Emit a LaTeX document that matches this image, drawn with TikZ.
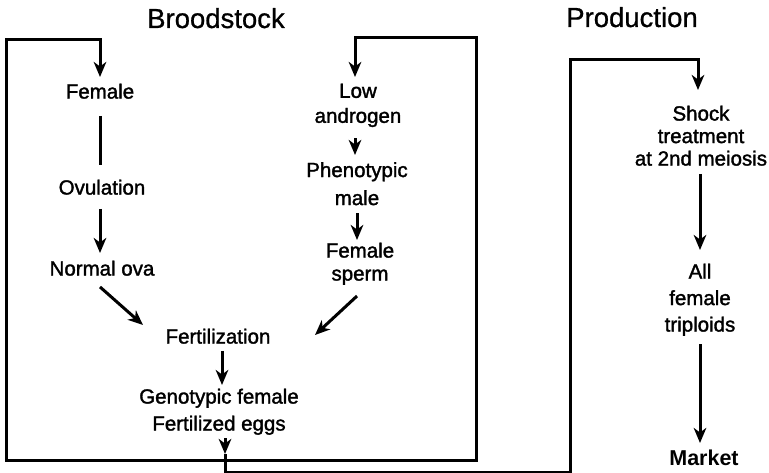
\documentclass[tikz,border=0pt]{standalone}
\usepackage{fontspec}
\setmainfont{Liberation Sans}
\newfontfamily\heavyfont[FakeBold=1.6]{Liberation Sans}
\newfontfamily\titlefont[FakeBold=0.8]{Liberation Sans}
\usetikzlibrary{arrows.meta}
\begin{document}
\begin{tikzpicture}[x=1pt,y=-1pt,
  lbl/.style={inner sep=0pt, align=center, anchor=north},
  ttl/.style={inner sep=0pt, anchor=base, font=\titlefont\fontsize{27.5}{30}\selectfont},
  ln/.style={line width=3pt},
  arr/.style={ln, -{Stealth[length=15pt,width=12.5pt,inset=4.5pt]}}]
\useasboundingbox[fill=white] (0,0) rectangle (769,473);
% titles
\node[ttl] (broodstock) at (216,28) {Broodstock};
\node[ttl] (production) at (632,27) {Production};
% left column
\node[lbl, font=\heavyfont\fontsize{20.5}{24}\selectfont] (female) at (100,83.5) {Female};
\node[lbl, font=\heavyfont\fontsize{20.5}{24}\selectfont] (ovul) at (102,179.5) {Ovulation};
\node[lbl, font=\heavyfont\fontsize{20.5}{24}\selectfont] (ova) at (102,260.5) {Normal ova};
% right column
\node[lbl, font=\heavyfont\fontsize{20.5}{25}\selectfont] (low) at (358,83.5) {Low\\androgen};
\node[lbl, font=\heavyfont\fontsize{20.5}{28}\selectfont] (pheno) at (357,162) {Phenotypic\\male};
\node[lbl, font=\heavyfont\fontsize{20.5}{23}\selectfont] (sperm) at (360,242.5) {Female\\sperm};
% centre
\node[lbl, font=\heavyfont\fontsize{20.5}{24}\selectfont] (fert) at (218,328.5) {Fertilization};
\node[lbl, font=\heavyfont\fontsize{20.5}{27}\selectfont] (eggs) at (219,388.5) {Genotypic female\\Fertilized eggs};
% production
\node[lbl, font=\heavyfont\fontsize{20.5}{22.5}\selectfont] (shock) at (701,105.5) {Shock\\treatment\\at 2nd meiosis};
\node[lbl, font=\heavyfont\fontsize{20.5}{26.5}\selectfont] (trip) at (700,263.5) {All\\female\\triploids};
\node[lbl, font=\fontsize{21.5}{24}\selectfont\bfseries] (market) at (704,450) {Market};
% coordinates of the loops
\coordinate (tip) at (225,454);
\coordinate (j) at (225,460);
\coordinate (o) at (225,472);
\coordinate (lc) at (6,40);
\coordinate (rc) at (476,38);
\coordinate (oc) at (570,60);
% left column connectors
\draw[ln, shorten <=17pt, shorten >=14.5pt] (female.south) -- (female.south |- ovul.north);
\draw[arr, shorten <=14pt, shorten >=7.5pt] (ovul.south -| female.south) -- (female.south |- ova.north);
\draw[arr] ([xshift=-2pt,yshift=-11pt]ova.south) -- ([xshift=-75pt,yshift=3.5pt]fert.north);
% right column connectors
\draw[arr, shorten <=11pt, shorten >=7pt] ([xshift=-3pt]low.south) -- ([xshift=-3pt]low.south |- pheno.north);
\draw[arr, shorten <=8pt, shorten >=2.5pt] (pheno.south) -- (pheno.south |- sperm.north);
\draw[arr] ([xshift=-3pt,yshift=-11pt]sperm.south) -- ([xshift=97pt,yshift=-6.5pt]fert.north);
% centre
\draw[arr, shorten <=7pt, shorten >=3.5pt] ([xshift=4pt]fert.south) -- ([xshift=4pt]fert.south |- eggs.north);
\draw[arr, shorten <=3pt] (eggs.south -| tip) -- (tip);
% broodstock loop
\draw[arr, shorten >=6.5pt] (j) -| (lc) -| (female.north);
\draw[arr, shorten >=6.5pt] (j) -| (rc) -| ([xshift=-3pt]low.north);
% to production
\draw[arr, shorten >=15.5pt] (tip) -- (o) -| (oc) -| ([xshift=-3pt]shock.north);
\draw[arr, shorten <=8pt, shorten >=13.5pt] ([xshift=-1pt]shock.south) -- ([xshift=-1pt]shock.south |- trip.north);
\draw[arr, shorten <=8pt, shorten >=7pt] (trip.south) -- (trip.south |- market.north);
\end{tikzpicture}
\end{document}
